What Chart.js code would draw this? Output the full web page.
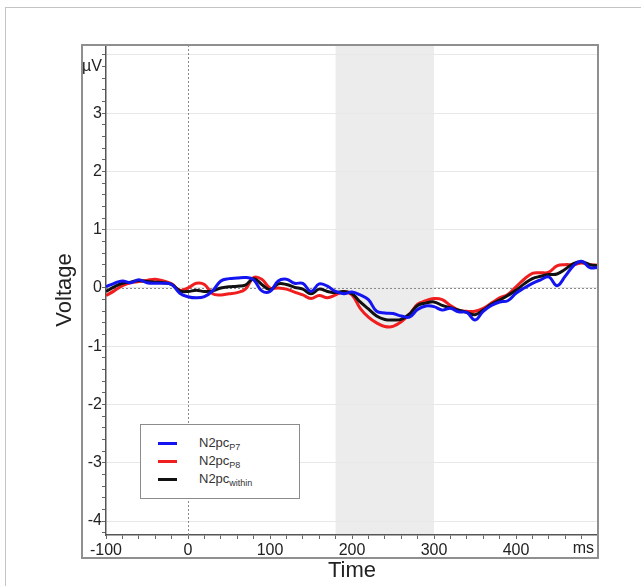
<!DOCTYPE html>
<html>
<head>
<meta charset="utf-8">
<script src="https://cdn.jsdelivr.net/npm/chart.js@4.4.1/dist/chart.umd.min.js"></script>
<style>
    body { margin: 0; background: #fff; font-family: 'Liberation Sans', Arial, sans-serif; }
    #wrap { position: relative; width: 641px; height: 586px; overflow: hidden; }
    #frame { position: absolute; left: 5px; top: 7px; width: 700px; height: 700px;
             border-top: 1px solid #c4c4c4; border-left: 1px solid #c4c4c4; }
    #chart { position: absolute; left: 0; top: 0; }
    #legend { position: absolute; left: 140px; top: 424px; width: 160px; height: 75px;
              box-sizing: border-box; border: 1px solid #8c8c8c; background: #fff;
              font-size: 13px; color: #333; }
    .row { position: absolute; left: 0; width: 100%; height: 18px; }
    .swatch { position: absolute; left: 17px; top: 8px; width: 19px; height: 3px; }
    .lbl { position: absolute; left: 58px; top: 0; line-height: 18px; white-space: nowrap; }
    .lbl sub { font-size: 9px; vertical-align: baseline; position: relative; top: 3px; }
</style>
</head>
<body>
<div id="wrap">
    <div id="frame"></div>
    <canvas id="chart" width="641" height="586"></canvas>
    <div id="legend">
        <div class="row" style="top:9px"><span class="swatch" style="background:#1414f0"></span><span class="lbl">N2pc<sub>P7</sub></span></div>
        <div class="row" style="top:27px"><span class="swatch" style="background:#f01e1e"></span><span class="lbl">N2pc<sub>P8</sub></span></div>
        <div class="row" style="top:45px"><span class="swatch" style="background:#111"></span><span class="lbl">N2pc<sub>within</sub></span></div>
    </div>
</div>
<script>
// ── Datos (ms / µV) ──────────────────────────────────────────────────────
const times = [-100, -90, -80, -70, -60, -50, -40, -30, -20, -10,
    0, 10, 20, 30, 40, 50, 60, 70, 80, 90,
    100, 110, 120, 130, 140, 150, 160, 170, 180, 190,
    200, 210, 220, 230, 240, 250, 260, 270, 280, 290,
    300, 310, 320, 330, 340, 350, 360, 370, 380, 390,
    400, 410, 420, 430, 440, 450, 460, 470, 480, 490, 500];

const n2pcP7 = [0.02, 0.08, 0.12, 0.09, 0.14, 0.09, 0.08, 0.08, 0.06, -0.09,
    -0.15, -0.17, -0.15, -0.05, 0.12, 0.16, 0.17, 0.18, 0.14, -0.05,
    -0.06, 0.12, 0.15, 0.08, 0.08, -0.06, 0.07, 0.03, -0.06, -0.10,
    -0.07, -0.12, -0.20, -0.40, -0.43, -0.44, -0.48, -0.50, -0.37, -0.31,
    -0.32, -0.38, -0.35, -0.41, -0.42, -0.55, -0.40, -0.30, -0.24, -0.22,
    -0.09, 0.00, 0.08, 0.14, 0.19, 0.04, 0.20, 0.38, 0.46, 0.35, 0.35];

const n2pcP8 = [-0.13, -0.05, 0.04, 0.09, 0.11, 0.13, 0.15, 0.12, 0.07, -0.04,
    0.00, 0.08, 0.06, -0.10, -0.12, -0.10, -0.08, -0.02, 0.18, 0.15,
    0.00, 0.00, -0.02, -0.07, -0.12, -0.18, -0.13, -0.17, -0.12, -0.06,
    -0.12, -0.35, -0.50, -0.60, -0.66, -0.66, -0.58, -0.45, -0.28, -0.22,
    -0.18, -0.20, -0.30, -0.38, -0.40, -0.40, -0.35, -0.26, -0.17, -0.11,
    0.02, 0.15, 0.25, 0.26, 0.27, 0.38, 0.40, 0.40, 0.43, 0.40, 0.39];

const n2pcWithin = [-0.06, 0.02, 0.08, 0.10, 0.13, 0.11, 0.10, 0.09, 0.06, -0.05,
    -0.06, -0.04, -0.06, -0.05, 0.00, 0.02, 0.03, 0.05, 0.16, 0.06,
    -0.03, 0.07, 0.06, 0.01, -0.02, -0.10, -0.02, -0.06, -0.08, -0.06,
    -0.10, -0.24, -0.36, -0.48, -0.54, -0.55, -0.54, -0.45, -0.30, -0.26,
    -0.24, -0.30, -0.34, -0.38, -0.42, -0.46, -0.38, -0.28, -0.21, -0.13,
    -0.04, 0.07, 0.16, 0.20, 0.23, 0.24, 0.32, 0.42, 0.45, 0.40, 0.38];

const windowMs = [180, 300];          // ventana N2pc sombreada
const yRange   = [-4.24, 4.17];
const xRange   = [-100, 500];
const FONT     = "'Liberation Sans', Arial, sans-serif";

// ── Plugin: ventana gris, lineas punteadas en 0, marco y etiqueta "ms" ───
const decor = {
    id: 'decor',
    beforeDraw(chart) {
        const { ctx, chartArea: a, scales: { x } } = chart;
        const x0 = x.getPixelForValue(windowMs[0]);
        const x1 = x.getPixelForValue(windowMs[1]);
        ctx.save();
        ctx.fillStyle = '#ececec';
        ctx.fillRect(x0, a.top, x1 - x0, a.bottom - a.top);
        ctx.restore();
    },
    beforeDatasetsDraw(chart) {
        const { ctx, chartArea: a, scales: { x, y } } = chart;
        const px = Math.round(x.getPixelForValue(0)) + 0.5;
        const py = Math.round(y.getPixelForValue(0)) + 0.5;
        ctx.save();
        ctx.strokeStyle = '#8a8a8a';
        ctx.lineWidth = 1;
        ctx.setLineDash([2, 2]);
        ctx.beginPath();
        ctx.moveTo(px, a.top); ctx.lineTo(px, a.bottom);
        ctx.moveTo(a.left, py); ctx.lineTo(a.right, py);
        ctx.stroke();
        ctx.restore();
    },
    afterDraw(chart) {
        const { ctx, chartArea: a } = chart;
        ctx.save();
        ctx.strokeStyle = '#8f8f8f';
        ctx.lineWidth = 2;
        ctx.strokeRect(a.left - 24, a.top, a.right - a.left + 24, a.bottom - a.top + 23);
        // unidad del eje X, alineada a la derecha dentro del marco
        ctx.fillStyle = '#222';
        ctx.font = `16px ${FONT}`;
        ctx.textAlign = 'right';
        ctx.textBaseline = 'middle';
        ctx.fillText('ms', a.right - 4, a.bottom + 14);
        ctx.restore();
    },
};

const pts = arr => times.map((t, i) => ({ x: t, y: arr[i] }));

new Chart(document.getElementById('chart').getContext('2d'), {
    type: 'line',
    data: {
        datasets: [
            { label: 'N2pcP7', data: pts(n2pcP7), borderColor: '#1414f0', order: 1 },
            { label: 'N2pcwithin', data: pts(n2pcWithin), borderColor: '#111111', order: 2 },
            { label: 'N2pcP8', data: pts(n2pcP8), borderColor: '#f01e1e', order: 3 },
        ],
    },
    options: {
        responsive: false, animation: false,
        layout: { padding: { left: 52, right: 43, top: 45, bottom: 0 } },
        elements: {
            line:  { borderWidth: 3, tension: 0.4, fill: false },
            point: { radius: 0 },
        },
        plugins: { legend: { display: false }, tooltip: { enabled: false } },
        scales: {
            x: {
                type: 'linear', min: xRange[0], max: xRange[1],
                afterBuildTicks: s => {
                    const t = [];
                    for (let v = xRange[0]; v <= xRange[1]; v += 20) t.push({ value: v });
                    s.ticks = t;
                },
                afterFit: s => { s.height = 51; },
                grid:   { drawOnChartArea: false, tickLength: 4, tickColor: '#666' },
                border: { color: '#555', width: 1.5 },
                ticks:  {
                    autoSkip: false, maxRotation: 0, padding: 2, color: '#222',
                    font: { family: FONT, size: 16 },
                    callback: v => (v % 100 !== 0 || v === xRange[1]) ? '' : v,
                },
                title: { display: true, text: 'Time', color: '#222',
                         font: { family: FONT, size: 22 }, padding: { top: 0, bottom: 2 } },
            },
            y: {
                min: yRange[0], max: yRange[1],
                afterBuildTicks: s => {
                    const t = [];
                    for (let k = -21; k <= 20; k++) t.push({ value: Math.round(k * 20) / 100 });
                    s.ticks = t;
                },
                afterFit: s => { s.width = 54; },
                grid: {
                    color: c => (c.tick && Number.isInteger(c.tick.value)) ? '#e8e8e8' : 'rgba(0,0,0,0)',
                    tickLength: 4, tickColor: '#666',
                },
                border: { color: '#555', width: 1.5 },
                ticks: {
                    autoSkip: false, padding: 0, color: '#222',
                    font: { family: FONT, size: 16 },
                    callback: v => {
                        if (Math.abs(v - 3.8) < 1e-6) return 'µV';
                        return (Number.isInteger(v) && v !== 4) ? v : '';
                    },
                },
                title: { display: true, text: 'Voltage', color: '#222',
                         font: { family: FONT, size: 22 }, padding: { top: 0, bottom: 4 } },
            },
        },
    },
    plugins: [decor],
});
</script>
</body>
</html>
